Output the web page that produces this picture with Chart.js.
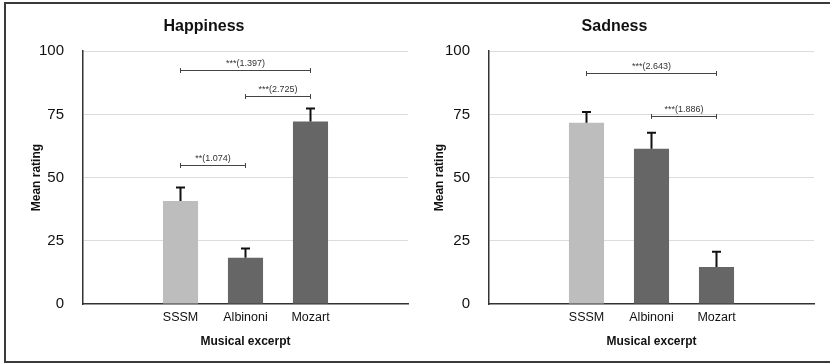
<!DOCTYPE html>
<html>
<head>
<meta charset="utf-8">
<script src="https://cdn.jsdelivr.net/npm/chart.js@4/dist/chart.umd.min.js"></script>
<style>
  html, body { margin: 0; padding: 0; background: #fff; }
  body { width: 830px; height: 363px; position: relative; overflow: hidden; }
  .frame { position: absolute; left: 4px; top: 2px; width: 840px; height: 357px;
           border-top: 2px solid #3a3a3a; border-left: 2px solid #3a3a3a; border-bottom: 2px solid #3a3a3a; }
  .panel { position: absolute; top: 0; width: 415px; height: 363px; }
  .panel canvas { display: block; }
</style>
</head>
<body>
<div class="frame"></div>
<div class="panel" style="left:0"><canvas id="happy" width="415" height="363"></canvas></div>
<div class="panel" style="left:415px"><canvas id="sad" width="415" height="363"></canvas></div>
<script>
// Musical excerpts rated in each condition
const categories = ['SSSM', 'Albinoni', 'Mozart'];
const yTicks = [0, 25, 50, 75, 100];

// Happiness ratings: means and upper end of the error bars
const happinessMeans = [40.7, 18.3, 72.2];
const happinessUpper = [46.1, 22.0, 77.3];

// Sadness ratings: means and upper end of the error bars
const sadnessMeans = [71.7, 61.4, 14.6];
const sadnessUpper = [75.9, 67.7, 20.7];

// Pairwise comparisons: [from excerpt, to excerpt, height, label]
const happinessPairs = [
  [0, 2, 92.5, '***(1.397)'],
  [1, 2, 82.2, '***(2.725)'],
  [0, 1, 55.1, '**(1.074)']
];
const sadnessPairs = [
  [0, 2, 91.4, '***(2.643)'],
  [1, 2, 74.4, '***(1.886)']
];

const barColors = ['#bdbdbd', '#666666', '#666666'];
const FONT = 'Liberation Sans, Arial, Helvetica, sans-serif';

// One empty slot on each side of the three excerpts
const slotLabels = ['', ...categories, ''];
const pad = arr => [null, ...arr, null];

// Draws the upward error bars and the comparison brackets using the chart scales
const annotations = {
  id: 'annotations',
  afterDatasetsDraw(chart, args, opts) {
    const ctx = chart.ctx;
    const xs = chart.scales.x, ys = chart.scales.y;
    ctx.save();
    // error bars
    ctx.strokeStyle = '#111';
    ctx.lineWidth = 2;
    opts.means.forEach((m, i) => {
      const x = xs.getPixelForValue(i + 1);
      const y0 = ys.getPixelForValue(m);
      const y1 = ys.getPixelForValue(opts.upper[i]);
      ctx.beginPath();
      ctx.moveTo(x, y0); ctx.lineTo(x, y1);
      ctx.moveTo(x - 4.5, y1); ctx.lineTo(x + 4.5, y1);
      ctx.stroke();
    });
    // comparison brackets
    opts.pairs.forEach(([a, b, v, label]) => {
      const xa = xs.getPixelForValue(a + 1);
      const xb = xs.getPixelForValue(b + 1);
      const y = Math.round(ys.getPixelForValue(v)) + 0.5;
      ctx.strokeStyle = '#444';
      ctx.lineWidth = 1;
      ctx.beginPath();
      ctx.moveTo(xa, y); ctx.lineTo(xb, y);
      ctx.moveTo(xa, y - 2.5); ctx.lineTo(xa, y + 2.5);
      ctx.moveTo(xb, y - 2.5); ctx.lineTo(xb, y + 2.5);
      ctx.stroke();
      ctx.fillStyle = '#333';
      ctx.font = '9px ' + FONT;
      ctx.textAlign = 'center';
      ctx.textBaseline = 'middle';
      ctx.fillText(label, (xa + xb) / 2, y - 7);
    });
    ctx.restore();
  }
};

function makeChart(id, title, means, upper, pairs, yAxisWidth, yTitlePad, rightPad) {
  return new Chart(document.getElementById(id), {
    type: 'bar',
    data: {
      labels: slotLabels,
      datasets: [{
        data: pad(means),
        backgroundColor: pad(barColors),
        borderWidth: 0,
        categoryPercentage: 1,
        barPercentage: 0.54
      }]
    },
    options: {
      responsive: false,
      animation: false,
      events: [],
      layout: { padding: { left: 0, right: rightPad, top: 0, bottom: 0 } },
      plugins: {
        legend: { display: false },
        tooltip: { enabled: false },
        title: {
          display: true,
          text: title,
          color: '#111',
          font: { family: FONT, size: 16, weight: 'bold' },
          padding: { top: 17, bottom: 15 }
        },
        annotations: { means, upper, pairs }
      },
      scales: {
        x: {
          grid: { display: false, drawTicks: false },
          border: { color: '#333', width: 1.5 },
          ticks: { color: '#111', font: { family: FONT, size: 12.5 }, padding: 6, maxRotation: 0, autoSkip: false },
          title: {
            display: true,
            text: 'Musical excerpt',
            color: '#111',
            font: { family: FONT, size: 12, weight: 'bold' },
            padding: { top: 0, bottom: 14 }
          },
          afterFit(scale) { scale.height = 59; }
        },
        y: {
          min: 0, max: 100,
          afterBuildTicks(scale) { scale.ticks = yTicks.map(v => ({ value: v })); },
          grid: {
            color: ctx => ctx.tick && ctx.tick.value === 0 ? 'rgba(0,0,0,0)' : '#dcdcdc',
            lineWidth: 1,
            drawTicks: false
          },
          border: { color: '#333', width: 1.5 },
          ticks: { color: '#111', font: { family: FONT, size: 15 }, padding: 19 },
          title: {
            display: true,
            text: 'Mean rating',
            color: '#111',
            font: { family: FONT, size: 12, weight: 'bold' },
            padding: { top: yTitlePad, bottom: 0 }
          },
          afterFit(scale) { scale.width = yAxisWidth; }
        }
      }
    },
    plugins: [annotations]
  });
}

makeChart('happy', 'Happiness', happinessMeans, happinessUpper, happinessPairs, 83, 29, 7);
makeChart('sad', 'Sadness', sadnessMeans, sadnessUpper, sadnessPairs, 74, 17, 16);
</script>
</body>
</html>
